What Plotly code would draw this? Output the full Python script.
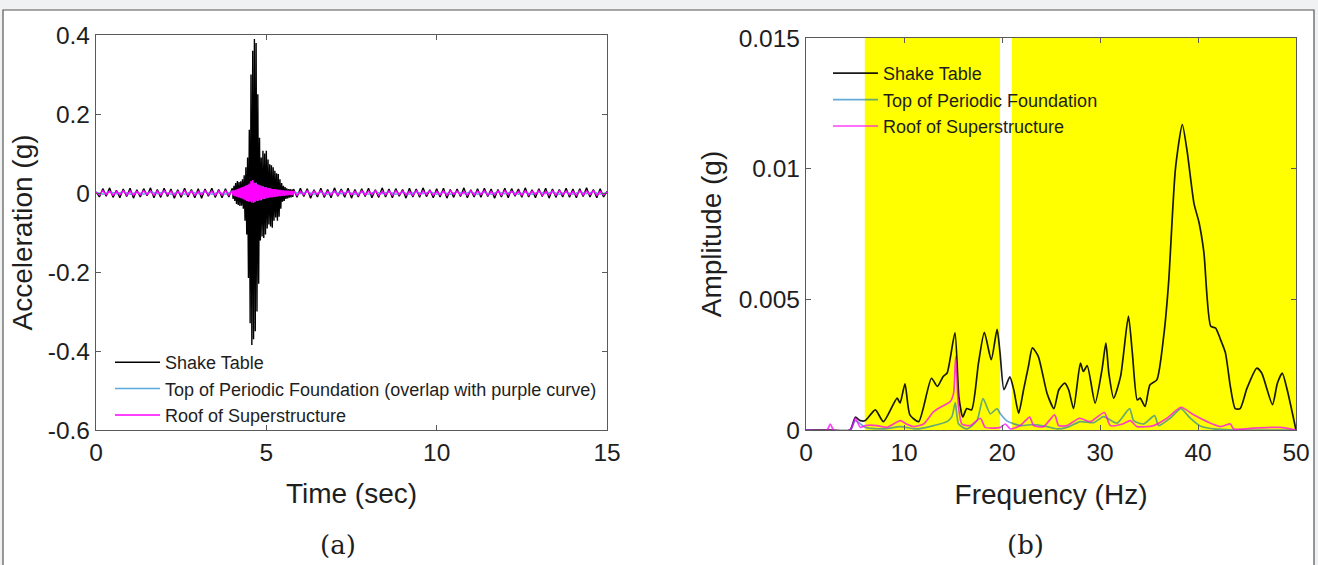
import numpy as np
import plotly.graph_objects as go

W, H = 1318, 565

# ---------------- (a) time histories ----------------
# quiet segments sampled every 0.1 s, burst every 0.025 s
dt_quiet = 0.1
dt_burst = 0.025
t_pre0, t_burst0, t_post0 = 0.0, 4.0, 5.8

acc_table_pre = [0.003, -0.010, 0.011, -0.008, 0.013, -0.011, 0.007, -0.012, 0.010, -0.009,
                 0.012, -0.013, 0.008, -0.010, 0.011, -0.007, 0.013, -0.012, 0.009, -0.011,
                 0.012, -0.009, 0.010, -0.013, 0.008, -0.011, 0.012, -0.010, 0.009, -0.012,
                 0.011, -0.013, 0.010, -0.008, 0.012, -0.011, 0.009, -0.012, 0.011, -0.010]
acc_table_burst = [0.012, -0.015, 0.018, -0.020, 0.025, -0.028, 0.030, -0.030, 0.028, -0.033,
                   0.030, -0.032, 0.035, -0.040, 0.045, -0.070, 0.065, -0.105, 0.090, -0.215,
                   0.160, -0.330, 0.300, -0.385, 0.360, -0.370, 0.390, -0.350, 0.380, -0.300,
                   0.250, -0.230, 0.140, -0.120, 0.090, -0.110, 0.107, -0.114, 0.100, -0.105,
                   0.107, -0.090, 0.085, -0.080, 0.073, -0.085, 0.070, -0.088, 0.065, -0.070,
                   0.056, -0.062, 0.050, -0.070, 0.048, -0.060, 0.035, -0.040, 0.025, -0.022,
                   0.018, -0.020, 0.015, -0.015, 0.012, -0.014, 0.010, -0.012, 0.010, -0.011,
                   0.009, -0.010]
acc_table_post = [0.010, -0.011, 0.012, -0.009, 0.011, -0.013, 0.008, -0.010, 0.012, -0.011,
                  0.009, -0.012, 0.013, -0.008, 0.010, -0.011, 0.012, -0.013, 0.009, -0.010,
                  0.011, -0.009, 0.012, -0.012, 0.008, -0.011, 0.013, -0.010, 0.010, -0.012,
                  0.011, -0.008, 0.009, -0.013, 0.012, -0.010, 0.010, -0.011, 0.013, -0.009,
                  0.008, -0.012, 0.011, -0.010, 0.012, -0.013, 0.009, -0.011, 0.010, -0.009,
                  0.013, -0.012, 0.008, -0.010, 0.011, -0.011, 0.012, -0.009, 0.010, -0.013,
                  0.009, -0.010, 0.012, -0.012, 0.011, -0.008, 0.010, -0.011, 0.013, -0.010,
                  0.008, -0.012, 0.011, -0.009, 0.012, -0.013, 0.010, -0.011, 0.009, -0.010,
                  0.012, -0.011, 0.010, -0.012, 0.011, -0.009, 0.013, -0.010, 0.009, -0.012,
                  0.011, -0.010, 0.004]

acc_roof_pre = [0.002, -0.005, 0.006, -0.004, 0.005, -0.006, 0.004, -0.005, 0.006, -0.005,
                0.005, -0.006, 0.004, -0.005, 0.006, -0.004, 0.005, -0.006, 0.005, -0.005,
                0.006, -0.004, 0.005, -0.006, 0.004, -0.005, 0.006, -0.005, 0.005, -0.006,
                0.004, -0.005, 0.006, -0.004, 0.005, -0.006, 0.005, -0.005, 0.006, -0.005]
acc_roof_burst = [0.006, -0.006, 0.007, -0.008, 0.008, -0.009, 0.010, -0.011, 0.012, -0.012,
                  0.013, -0.014, 0.015, -0.016, 0.017, -0.018, 0.019, -0.020, 0.021, -0.022,
                  0.024, -0.022, 0.030, -0.024, 0.033, -0.025, 0.026, -0.022, 0.024, -0.020,
                  0.022, -0.019, 0.020, -0.018, 0.018, -0.016, 0.016, -0.015, 0.015, -0.014,
                  0.014, -0.013, 0.013, -0.012, 0.012, -0.011, 0.011, -0.011, 0.010, -0.010,
                  0.010, -0.009, 0.009, -0.009, 0.008, -0.008, 0.008, -0.008, 0.007, -0.007,
                  0.007, -0.007, 0.006, -0.006, 0.006, -0.006, 0.006, -0.005, 0.005, -0.005,
                  0.005, -0.005]
acc_roof_post = [0.005, -0.006, 0.004, -0.005, 0.006, -0.005, 0.005, -0.004, 0.006, -0.006,
                 0.004, -0.005, 0.005, -0.006, 0.006, -0.004, 0.005, -0.005, 0.004, -0.006,
                 0.006, -0.005, 0.005, -0.004, 0.006, -0.006, 0.004, -0.005, 0.005, -0.006,
                 0.006, -0.004, 0.005, -0.005, 0.004, -0.006, 0.006, -0.005, 0.005, -0.004,
                 0.006, -0.006, 0.004, -0.005, 0.005, -0.006, 0.006, -0.004, 0.005, -0.005,
                 0.004, -0.006, 0.006, -0.005, 0.005, -0.004, 0.006, -0.006, 0.004, -0.005,
                 0.005, -0.006, 0.006, -0.004, 0.005, -0.005, 0.004, -0.006, 0.006, -0.005,
                 0.005, -0.004, 0.006, -0.006, 0.004, -0.005, 0.005, -0.006, 0.006, -0.004,
                 0.005, -0.005, 0.004, -0.006, 0.006, -0.005, 0.005, -0.004, 0.006, -0.006,
                 0.004, -0.005, 0.002]

dt_found_quiet = 0.2
dt_found_burst = 0.05
acc_found_pre = [0.002, -0.003, 0.003, -0.002, 0.003, -0.003, 0.002, -0.003, 0.003, -0.002,
                 0.003, -0.003, 0.002, -0.003, 0.003, -0.002, 0.003, -0.003, 0.002, -0.003]
acc_found_burst = [0.004, -0.005, 0.007, -0.008, 0.010, -0.012, 0.014, -0.015, 0.018, -0.020,
                   0.022, -0.020, 0.025, -0.022, 0.026, -0.020, 0.020, -0.018, 0.017, -0.015,
                   0.014, -0.012, 0.012, -0.010, 0.010, -0.009, 0.008, -0.007, 0.007, -0.006,
                   0.005, -0.005, 0.004, -0.004, 0.004, -0.003]
acc_found_post = [0.003, -0.002, 0.003, -0.003, 0.002, -0.003, 0.003, -0.002, 0.003, -0.003,
                  0.002, -0.003, 0.003, -0.002, 0.003, -0.003, 0.002, -0.003, 0.003, -0.002,
                  0.003, -0.003, 0.002, -0.003, 0.003, -0.002, 0.003, -0.003, 0.002, -0.003,
                  0.003, -0.002, 0.003, -0.003, 0.002, -0.003, 0.003, -0.002, 0.003, -0.003,
                  0.002, -0.003, 0.003, -0.002, 0.003, -0.003, 0.001]

time_ticks = [0, 5, 10, 15]
acc_ticks = [-0.6, -0.4, -0.2, 0, 0.2, 0.4]
acc_ticktext = ["-0.6", "-0.4", "-0.2", "0", "0.2", "0.4"]

# ---------------- (b) Fourier amplitude spectra ----------------
freq_table = [0, 2.5, 4.5, 5.03, 5.54, 6.05, 7.07, 7.9, 9.3, 9.6, 10.1, 10.6, 11.5, 12.8, 13.4,
              14.0, 14.4, 15.2, 15.6, 16.0, 16.4, 16.9, 17.6, 18.2, 18.9, 19.5, 19.8, 20.2, 20.8,
              21.2, 21.7, 22.2, 22.7, 23.1, 23.7, 24.6, 25.3, 25.8, 26.4, 26.8, 27.3, 28.0, 28.3,
              28.7, 29.5, 30.2, 30.6, 30.9, 31.4, 32.1, 32.9, 33.3, 33.8, 34.1, 34.6, 35.1, 35.8,
              36.5, 37.0, 37.7, 38.4, 38.9, 39.6, 40.1, 40.6, 41.3, 41.8, 42.3, 42.8, 43.3, 43.8,
              44.3, 45.0, 46.0, 46.5, 47.6, 48.1, 48.6, 49.1, 50.0]
amp_table = [0, 0, 0, 0.00049, 0.00036, 0.00036, 0.00077, 0.00032, 0.00122, 0.00103, 0.00177,
             0.00058, 0.00032, 0.00198, 0.00167, 0.00205, 0.00218, 0.00372, 0.00126, 0.0005,
             0.00082, 0.00077, 0.00256, 0.00374, 0.00269, 0.00385, 0.00295, 0.00154, 0.00203,
             0.00154, 0.00064, 0.00154, 0.00244, 0.00314, 0.00282, 0.0014, 0.00082, 0.00154,
             0.00179, 0.00154, 0.00082, 0.00256, 0.00224, 0.00246, 0.00103, 0.0023, 0.00333,
             0.00218, 0.00122, 0.00205, 0.00436, 0.00295, 0.00115, 0.00122, 0.0009, 0.00173,
             0.00192, 0.00359, 0.00564, 0.01, 0.01169, 0.01064, 0.00865, 0.00795, 0.0068,
             0.00397, 0.0039, 0.00346, 0.00295, 0.00167, 0.00082, 0.00082, 0.0016, 0.00237,
             0.00218, 0.00097, 0.00179, 0.00218, 0.00154, 0]

freq_found = [0, 4.52, 5.03, 6.05, 7.92, 9.62, 11.32, 13.02, 14.38, 14.89, 15.23, 15.57, 16.43,
              17.45, 18.06, 18.81, 19.49, 19.83, 20.5, 21.87, 23.23, 24.59, 25.61, 26.63, 27.99,
              29.35, 30.37, 31.73, 33.02, 33.43, 34.45, 35.57, 35.98, 37.17, 38.26, 39.21, 40.23,
              41.59, 43.64, 50.0]
amp_found = [0, 0, 0.00036, 0.0001, 0.00004, 0.00013, 0.00004, 0.00017, 0.00032, 0.00051,
             0.00105, 0.00023, 0.00004, 0.00036, 0.0012, 0.00062, 0.00082, 0.00062, 0.00035,
             0.00017, 0.00021, 0.00013, 0.00004, 0.0001, 0.00032, 0.00028, 0.00051, 0.00026,
             0.00082, 0.00036, 0.00023, 0.00055, 0.00017, 0.00045, 0.00082, 0.00045, 0.00015,
             0.00004, 0, 0]

freq_roof = [0, 2.14, 2.48, 2.82, 4.52, 5.03, 5.54, 6.05, 7.24, 8.26, 9.62, 10.24, 10.98, 12.0,
             13.02, 13.7, 14.72, 15.06, 15.27, 15.57, 15.9, 16.77, 17.79, 18.3, 19.83, 20.34,
             20.85, 21.87, 22.82, 23.23, 24.25, 25.37, 25.78, 26.63, 27.92, 29.01, 30.44, 31.05,
             32.31, 33.09, 33.77, 35.47, 36.83, 38.26, 39.55, 40.92, 42.28, 43.3, 43.64, 46.02,
             48.4, 50.0]
amp_roof = [0, 0, 0.00023, 0, 0, 0.00045, 0.0001, 0.00017, 0.00017, 0.0001, 0.00036, 0.00023,
            0.00013, 0.00023, 0.0007, 0.00087, 0.00109, 0.00141, 0.0028, 0.00087, 0.00023,
            0.00017, 0.00045, 0.0001, 0.0001, 0.00023, 0.00004, 0.00017, 0.00049, 0.00017,
            0.00013, 0.00058, 0.00017, 0.00017, 0.00045, 0.00032, 0.00067, 0.00017, 0.00023,
            0.00036, 0.00013, 0.00017, 0.00045, 0.00087, 0.00058, 0.00032, 0.00013, 0.00023,
            0.00004, 0.00008, 0.0001, 0]

highlight_bands = [(6.0, 19.8), (21.0, 50.0)]
freq_ticks = [0, 10, 20, 30, 40, 50]
amp_ticks = [0, 0.005, 0.01, 0.015]
amp_ticktext = ["0", "0.005", "0.01", "0.015"]

names_a = ["Shake Table", "Top of Periodic Foundation (overlap with purple curve)", "Roof of Superstructure"]
names_b = ["Shake Table", "Top of Periodic Foundation", "Roof of Superstructure"]
colors = ["rgba(0,0,0,0.9)", "rgba(0,114,189,0.6)", "rgba(255,0,255,0.75)"]


def seg_times(t0, dt, n):
    return [round(t0 + i * dt, 4) for i in range(n)]


def series(pre, burst, post, dtq, dtb):
    t = seg_times(t_pre0, dtq, len(pre)) + seg_times(t_burst0, dtb, len(burst)) + seg_times(t_post0, dtq, len(post))
    return t, list(pre) + list(burst) + list(post)


t_tab, a_tab = series(acc_table_pre, acc_table_burst, acc_table_post, dt_quiet, dt_burst)
t_fnd, a_fnd = series(acc_found_pre, acc_found_burst, acc_found_post, dt_found_quiet, dt_found_burst)
t_roof, a_roof = series(acc_roof_pre, acc_roof_burst, acc_roof_post, dt_quiet, dt_burst)

FONT = "Liberation Sans, Arial, sans-serif"
TXT = "#1e1e1e"
AXC = "#5a5a5a"

fig = go.Figure()

fig.add_trace(go.Scatter(x=t_tab, y=a_tab, mode="lines", name=names_a[0],
                         line=dict(color="black", width=1.4), xaxis="x", yaxis="y", legend="legend"))
fig.add_trace(go.Scatter(x=t_fnd, y=a_fnd, mode="lines", name=names_a[1],
                         line=dict(color="rgb(90,170,220)", width=1.5), xaxis="x", yaxis="y", legend="legend"))
fig.add_trace(go.Scatter(x=t_roof, y=a_roof, mode="lines", name=names_a[2],
                         line=dict(color="#ff00ff", width=1.5), xaxis="x", yaxis="y", legend="legend"))

for f, a, nm, c in [(freq_table, amp_table, names_b[0], colors[0]),
                    (freq_found, amp_found, names_b[1], colors[1]),
                    (freq_roof, amp_roof, names_b[2], colors[2])]:
    fig.add_trace(go.Scatter(x=f, y=a, mode="lines", name=nm,
                             line=dict(color=c, width=1.7, shape="spline", smoothing=0.6),
                             xaxis="x2", yaxis="y2", legend="legend2"))

shapes = [dict(type="rect", xref="paper", yref="paper", x0=3 / W, x1=1314 / W, y0=-0.05,
               y1=1 - 10 / H, fillcolor="white", line=dict(color="#555555", width=1.2), layer="below")]
for x0, x1 in highlight_bands:
    shapes.append(dict(type="rect", xref="x2", yref="y2 domain", x0=x0, x1=x1, y0=0, y1=1,
                       fillcolor="#ffff00", line=dict(width=0), layer="below"))

axis_common = dict(showline=True, linecolor=AXC, linewidth=1.3, mirror="ticks", ticks="inside",
                   ticklen=5, tickcolor=AXC, showgrid=False, zeroline=False, automargin=False,
                   tickfont=dict(family=FONT, size=24.5, color=TXT))
title_font = dict(family=FONT, size=28, color=TXT)

fig.update_layout(
    template="none",
    width=W, height=H,
    margin=dict(l=0, r=0, t=0, b=0),
    paper_bgcolor="#f0f1f3",
    plot_bgcolor="rgba(0,0,0,0)",
    showlegend=True,
    shapes=shapes,
    xaxis=dict(domain=[96 / W, 607 / W], range=[0, 15], anchor="y", tickvals=time_ticks,
               title=dict(text="Time (sec)", font=title_font, standoff=18),
               **axis_common),
    yaxis=dict(domain=[1 - 430 / H, 1 - 35 / H], range=[-0.6, 0.4], anchor="x",
               tickvals=acc_ticks, ticktext=acc_ticktext,
               title=dict(text="Acceleration (g)", font=title_font, standoff=6),
               **axis_common),
    xaxis2=dict(domain=[806 / W, 1296 / W], range=[0, 50], anchor="y2", tickvals=freq_ticks,
                title=dict(text="Frequency (Hz)", font=title_font, standoff=19),
                **axis_common),
    yaxis2=dict(domain=[1 - 430 / H, 1 - 38 / H], range=[0, 0.015], anchor="x2",
                tickvals=amp_ticks, ticktext=amp_ticktext,
                title=dict(text="Amplitude (g)", font=title_font, standoff=8),
                **axis_common),
    legend=dict(x=110 / W, y=1 - 344 / H, xanchor="left", yanchor="top", bgcolor="rgba(0,0,0,0)",
                font=dict(family=FONT, size=18, color=TXT), itemwidth=45, traceorder="normal"),
    legend2=dict(x=828 / W, y=1 - 55 / H, xanchor="left", yanchor="top", bgcolor="rgba(0,0,0,0)",
                 font=dict(family=FONT, size=18, color=TXT), itemwidth=45, traceorder="normal"),
    annotations=[
        dict(text="(a)", x=338 / W, y=1 - 545 / H, xref="paper", yref="paper", showarrow=False,
             xanchor="center", yanchor="middle",
             font=dict(family="DejaVu Serif", size=26, color=TXT)),
        dict(text="(b)", x=1025 / W, y=1 - 545 / H, xref="paper", yref="paper", showarrow=False,
             xanchor="center", yanchor="middle",
             font=dict(family="DejaVu Serif", size=26, color=TXT)),
    ],
)

fig.write_html("out.html", config={"displayModeBar": False},
               post_script="document.body.style.margin='0';document.body.style.background='#f0f1f3';")
